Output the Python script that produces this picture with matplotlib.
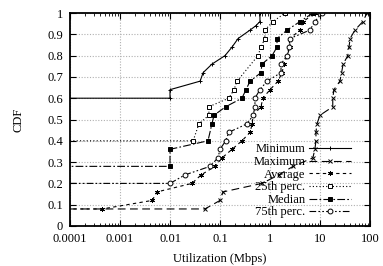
import numpy as np
import matplotlib
matplotlib.use("Agg")
import matplotlib.pyplot as plt
from matplotlib.ticker import LogLocator, NullFormatter

# ── Data (CDF of utilization, Mbps) ─────────────────────────
# 1e-5 stands for "zero" samples, drawn off the left edge of the log axis
min_x = [1e-5, 0.01, 0.01, 0.04, 0.046, 0.069, 0.126, 0.174, 0.23, 0.4, 0.52, 0.63, 0.63]
min_y = [0.60, 0.60, 0.64, 0.68, 0.72, 0.76, 0.80, 0.84, 0.88, 0.92, 0.94, 0.96, 1.00]

max_x = [1e-5, 0.05, 0.1, 0.115, 0.69, 1.5, 2.9, 7.2, 7.9, 8.3, 8.3, 8.7, 10,
         18, 18, 19, 25, 27, 29, 36, 38, 40, 50, 72, 87]
max_y = [0.08, 0.08, 0.12, 0.16, 0.20, 0.24, 0.28, 0.32, 0.36, 0.40, 0.44, 0.48, 0.52,
         0.56, 0.60, 0.64, 0.68, 0.72, 0.76, 0.80, 0.84, 0.88, 0.92, 0.96, 1.00]

avg_x = [1e-5, 0.00044, 0.0044, 0.0055, 0.0275, 0.042, 0.079, 0.11, 0.174, 0.275,
         0.4, 0.44, 0.46, 0.66, 0.72, 1.0, 1.45, 1.74, 1.91, 2.2, 2.5, 2.5, 4.0, 4.6, 8.0]
avg_y = [0.08, 0.08, 0.12, 0.16, 0.20, 0.24, 0.28, 0.32, 0.36, 0.40,
         0.44, 0.48, 0.52, 0.56, 0.60, 0.64, 0.68, 0.72, 0.76, 0.80, 0.84, 0.88, 0.92, 0.96, 1.00]

p25_x = [1e-5, 0.029, 0.038, 0.06, 0.06, 0.15, 0.19, 0.22, 0.575, 0.66, 0.79, 0.79, 1.15, 2.0]
p25_y = [0.40, 0.40, 0.48, 0.52, 0.56, 0.60, 0.64, 0.68, 0.80, 0.84, 0.88, 0.92, 0.96, 1.00]

med_x = [1e-5, 0.01, 0.01, 0.0575, 0.069, 0.076, 0.13, 0.275, 0.33, 0.40, 0.66, 0.69,
         1.1, 1.38, 1.38, 2.2, 4.0, 7.2]
med_y = [0.28, 0.28, 0.36, 0.40, 0.48, 0.52, 0.56, 0.60, 0.64, 0.68, 0.72, 0.76,
         0.80, 0.84, 0.88, 0.92, 0.96, 1.00]

p75_x = [1e-5, 0.01, 0.02, 0.063, 0.091, 0.1, 0.13, 0.15, 0.35, 0.46, 0.5, 0.5, 0.63,
         0.87, 1.66, 1.66, 2.2, 2.4, 2.5, 6.3, 7.9, 11]
p75_y = [0.20, 0.20, 0.24, 0.28, 0.32, 0.36, 0.40, 0.44, 0.48, 0.52, 0.56, 0.60, 0.64,
         0.68, 0.72, 0.76, 0.80, 0.84, 0.88, 0.92, 0.96, 1.00]

x_ticks = [0.0001, 0.001, 0.01, 0.1, 1, 10, 100]
x_labels = ["0.0001", "0.001", "0.01", "0.1", "1", "10", "100"]
y_ticks = [0, 0.1, 0.2, 0.3, 0.4, 0.5, 0.6, 0.7, 0.8, 0.9, 1]
y_labels = ["0", "0.1", "0.2", "0.3", "0.4", "0.5", "0.6", "0.7", "0.8", "0.9", "1"]

plt.rcParams.update({
    "font.family": "Liberation Serif",
    "font.size": 9,
})

fig = plt.figure(figsize=(3.83, 2.66), dpi=100)
ax = fig.add_axes([70 / 383, 40 / 266, 300 / 383, 213 / 266])

ms = 3.5
lw = 0.8
series = [
    (min_x, min_y, "Minimum", dict(ls="-", marker="+", mfc="black")),
    (max_x, max_y, "Maximum", dict(dashes=(7, 4), marker="x", mfc="black")),
    (avg_x, avg_y, "Average", dict(dashes=(3, 3), marker=(6, 2, 0), mfc="black")),
    (p25_x, p25_y, "25th perc.", dict(dashes=(1, 2), marker="s", mfc="white")),
    (med_x, med_y, "Median", dict(dashes=(7, 2, 1.5, 2), marker="s", mfc="black")),
    (p75_x, p75_y, "75th perc.", dict(dashes=(6, 2, 1.5, 2, 1.5, 2), marker="o", mfc="white")),
]
for xs, ys, lab, st in series:
    ax.plot(xs, ys, color="black", lw=lw, ms=ms, mec="black", mew=0.7,
            label=lab, **st)

ax.set_xscale("log")
ax.set_xlim(0.0001, 100)
ax.set_ylim(0, 1)
ax.set_xticks(x_ticks, x_labels)
ax.xaxis.set_minor_locator(LogLocator(base=10, subs=np.arange(2, 10), numticks=20))
ax.xaxis.set_minor_formatter(NullFormatter())
ax.set_yticks(y_ticks, y_labels)

ax.grid(True, which="major", color="#b0b0b0", ls=(0, (1, 1.5)), lw=0.8)
ax.tick_params(which="both", direction="in", top=True, right=True, colors="black",
               labelsize=9)
ax.tick_params(which="major", length=4, width=0.8, pad=5)
ax.tick_params(which="minor", length=2, width=0.6)
for sp in ax.spines.values():
    sp.set_linewidth(1.3)

ax.set_xlabel("Utilization (Mbps)", fontsize=9, labelpad=6)
ax.set_ylabel("CDF", fontsize=9, labelpad=16)

leg = ax.legend(loc="lower right", markerfirst=False, frameon=False, fontsize=9,
                handlelength=3.3, handletextpad=0.3, labelspacing=0.05,
                borderaxespad=0.2, bbox_to_anchor=(0.96, 0.0))

fig.savefig("out.png", dpi=100)
